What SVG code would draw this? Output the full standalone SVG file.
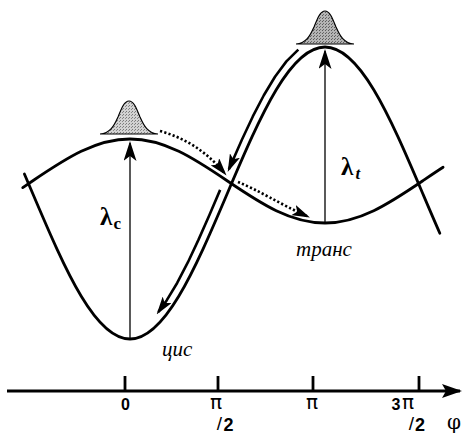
<svg xmlns="http://www.w3.org/2000/svg" width="463" height="437" viewBox="0 0 463 437">
<style>
.curve{fill:none;stroke:#000;stroke-width:2.8;stroke-linejoin:round;stroke-linecap:round}
.thick{fill:none;stroke:#000;stroke-width:2.6;stroke-linejoin:round}
.thin{fill:none;stroke:#000;stroke-width:1.3}
.dots{fill:none;stroke:#000;stroke-width:2.6;stroke-dasharray:2.2 2.2}
.axis{fill:none;stroke:#000;stroke-width:2.8}
.hump{stroke:#000;stroke-width:1.2}
.lam{font-family:"Liberation Serif","DejaVu Serif",serif;font-size:25px;font-weight:bold;fill:#000}
.sub{font-family:"Liberation Serif","DejaVu Serif",serif;font-size:17px;font-weight:bold;fill:#000}
.conf{font-family:"Liberation Serif","DejaVu Serif",serif;font-style:italic;font-size:21px;fill:#000}
.num{font-family:"Liberation Sans","DejaVu Sans",sans-serif;font-weight:bold;font-size:16px;fill:#000}
.two{font-family:"Liberation Sans","DejaVu Sans",sans-serif;font-weight:bold;font-size:18px;fill:#000}
.pi{font-family:"DejaVu Sans","Liberation Sans",sans-serif;font-size:20px;fill:#000}
.sl{font-family:"Liberation Sans","DejaVu Sans",sans-serif;font-size:19px;fill:#000}
.phi{font-family:"DejaVu Serif","Liberation Serif",serif;font-size:20px;fill:#000}
</style>
<defs>
<marker id="vhead" markerUnits="userSpaceOnUse" viewBox="0 0 20 13" markerWidth="20" markerHeight="13" refX="18" refY="6.5" orient="auto">
<path d="M0,0 L20,6.5 L0,13 L5,6.5 z" fill="#000"/>
</marker>
<marker id="thead" markerUnits="userSpaceOnUse" viewBox="0 0 18 11" markerWidth="18" markerHeight="11" refX="15" refY="5.5" orient="auto">
<path d="M0,0 L18,5.5 L0,11 L4,5.5 z" fill="#000"/>
</marker>
<marker id="ahead" markerUnits="userSpaceOnUse" viewBox="0 0 20 14" markerWidth="20" markerHeight="14" refX="18" refY="7" orient="auto">
<path d="M0,0 L20,7 L0,14 L4,7 z" fill="#000"/>
</marker>
<pattern id="patL" width="3" height="3" patternUnits="userSpaceOnUse">
<rect width="3" height="3" fill="#d2d2d2"/>
<rect x="0" y="0" width="1" height="1" fill="#7a7a7a"/>
<rect x="2" y="1" width="1" height="1" fill="#8a8a8a"/>
</pattern>
<pattern id="patR" width="3" height="3" patternUnits="userSpaceOnUse">
<rect width="3" height="3" fill="#b4b4b4"/>
<rect x="0" y="0" width="1" height="1" fill="#5a5a5a"/>
<rect x="1" y="2" width="1" height="1" fill="#6a6a6a"/>
</pattern>
<path id="bell" d="M100 134 C110 133.5 114 126 118 117 C122 107 124.5 101 129 101 C133.5 101 136 107 140 117 C144 126 148 133.5 158 134 Z"/>
</defs>
<rect width="463" height="437" fill="#fff"/>

<g id="humps">
<use href="#bell" class="hump" fill="url(#patL)"/>
<use href="#bell" class="hump" fill="url(#patR)" transform="translate(196,-90)"/>
</g>

<g id="curves">
<path id="shallow" class="curve" d="M22.75 187.6 L32.5 181 C48.75 170 65 159.08 81.25 151.3 C97.5 143.53 113.75 139 130 139 C146.25 139 162.5 143.53 178.75 151.3 C195 159.08 211.25 170 227.5 181 C243.75 192 260 202.93 276.25 210.7 C292.5 218.48 308.75 223 325 223 C341.25 223 357.5 218.48 373.75 210.7 C390 202.93 406.25 192 422.5 181 C429.36 176.36 436.22 171.69 443.08 167.3"/>
<path id="deep" class="curve" d="M24.4 174 L32.5 193 C48.75 231.22 65 269.21 81.25 296.24 C97.5 323.27 113.75 339 130 339 C146.25 339 162.5 323.27 178.75 296.24 C195 269.21 211.25 231.22 227.5 193 C243.75 154.78 260 116.79 276.25 89.76 C292.5 62.73 308.75 47 325 47 C341.25 47 357.5 62.73 373.75 89.76 C390 116.79 406.25 154.78 422.5 193 C428.28 206.59 434.02 220.13 439.83 233.2"/>
</g>

<g id="connectors">
<line class="thin" x1="130" y1="339" x2="130" y2="143" marker-end="url(#vhead)"/>
<line class="thin" x1="325" y1="223" x2="325" y2="51" marker-end="url(#vhead)"/>
<polyline class="thick" points="298.32,49.57 286.41,61.38 275,76.75 263.84,95.27 252.82,116.47 241.88,139.77 228.9,169.3" marker-end="url(#thead)"/>
<polyline class="thick" points="220.14,189.87 209.32,215.18 198.54,239.63 187.82,262.47 177.17,282.97 166.66,300.43 158.35,311.97" marker-end="url(#thead)"/>
<path class="dots" d="M160 131 C185 138 206 151 224.6 173.2" marker-end="url(#thead)"/>
<path class="dots" d="M238 182 C258 190 280 204 307.2 216.3" marker-end="url(#thead)"/>
</g>

<g id="labels">
<text class="lam" x="100" y="225">λ</text>
<text class="sub" x="113.5" y="229">c</text>
<text class="lam" x="341" y="175">λ</text>
<text class="sub" x="355.5" y="179" font-style="italic">t</text>
<text class="conf" x="162" y="356">цис</text>
<text class="conf" x="296" y="256">транс</text>
</g>

<g id="axis">
<line class="axis" x1="7" y1="391" x2="460" y2="391" marker-end="url(#ahead)"/>
<line class="axis" x1="125" y1="376" x2="125" y2="391"/>
<line class="axis" x1="218" y1="376" x2="218" y2="391"/>
<line class="axis" x1="313" y1="376" x2="313" y2="391"/>
<line class="axis" x1="419" y1="376" x2="419" y2="391"/>
<text class="num" x="125.5" y="410" text-anchor="middle">0</text>
<text class="pi" x="216" y="409" text-anchor="middle">π</text>
<text class="sl" x="219.5" y="430" text-anchor="middle">/</text>
<text class="two" x="228.5" y="431" text-anchor="middle">2</text>
<text class="pi" x="312" y="409" text-anchor="middle">π</text>
<text class="num" x="396" y="410" text-anchor="middle">3</text>
<text class="pi" x="408" y="409" text-anchor="middle">π</text>
<text class="sl" x="411.5" y="430" text-anchor="middle">/</text>
<text class="two" x="420" y="431" text-anchor="middle">2</text>
<text class="phi" x="454" y="429" text-anchor="middle">φ</text>
</g>
</svg>
